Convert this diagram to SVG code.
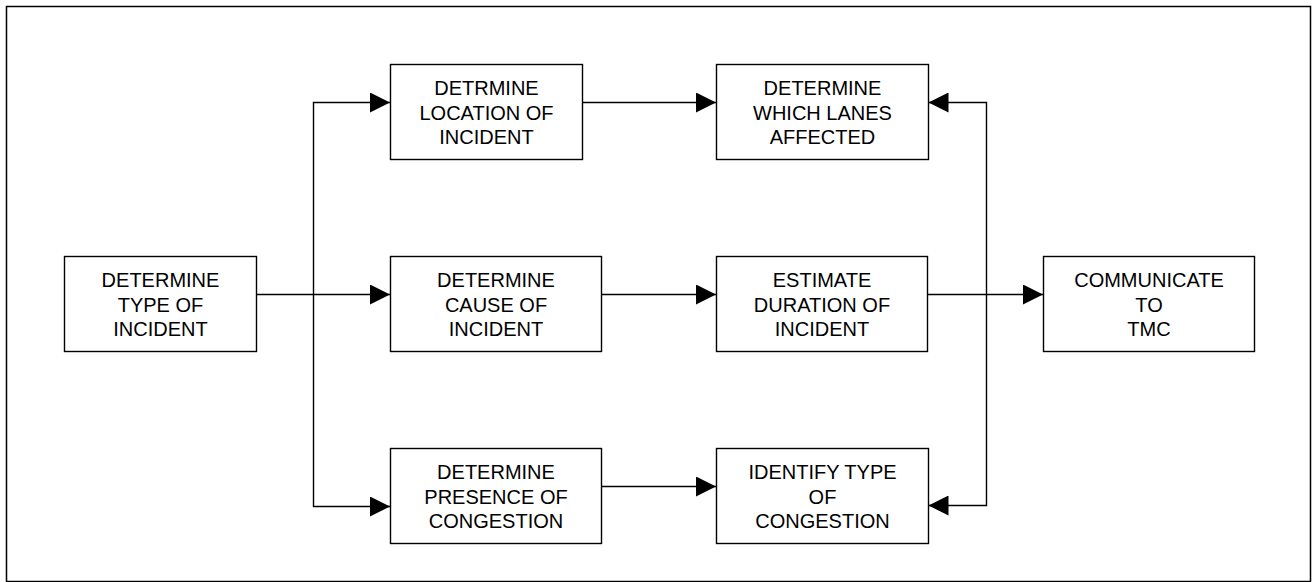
<svg xmlns="http://www.w3.org/2000/svg" width="1312" height="582" viewBox="0 0 1312 582">
<style>
.box{fill:#fff;stroke:#000;stroke-width:1.4}
.lbl{font-family:"Liberation Sans",Arial,sans-serif;font-size:20px;text-anchor:middle;fill:#000}
.con{fill:none;stroke:#000;stroke-width:1.4}
</style>
<defs>
<marker id="arr" markerUnits="userSpaceOnUse" markerWidth="20" markerHeight="20" viewBox="0 0 20 20" refX="20" refY="10" orient="auto-start-reverse">
<path d="M0,0 L20,10 L0,20 Z" fill="#000"/>
</marker>
</defs>
<rect x="0" y="0" width="1312" height="582" fill="#fff"/>
<rect x="6.5" y="6.5" width="1304" height="575" fill="none" stroke="#000" stroke-width="1.5"/>
<g id="connectors">
<path class="con" d="M256.5,294.5 H390" marker-end="url(#arr)"/>
<path class="con" d="M390,102.5 H313.5 V506.5 H390" marker-start="url(#arr)" marker-end="url(#arr)"/>
<path class="con" d="M582.5,102.5 H716" marker-end="url(#arr)"/>
<path class="con" d="M602,294.5 H716" marker-end="url(#arr)"/>
<path class="con" d="M602,486.5 H716" marker-end="url(#arr)"/>
<path class="con" d="M928,294.5 H1043" marker-end="url(#arr)"/>
<path class="con" d="M928.5,102.5 H986.5 V505.5 H928.5" marker-start="url(#arr)" marker-end="url(#arr)"/>
</g>
<g id="type">
<rect class="box" x="64.5" y="256.5" width="192" height="95"/>
<text class="lbl" x="160.5" y="287">DETERMINE</text>
<text class="lbl" x="160.5" y="311.5">TYPE OF</text>
<text class="lbl" x="160.5" y="336">INCIDENT</text>
</g>
<g id="location">
<rect class="box" x="390.5" y="64.5" width="192" height="95"/>
<text class="lbl" x="486.5" y="95">DETRMINE</text>
<text class="lbl" x="486.5" y="119.5">LOCATION OF</text>
<text class="lbl" x="486.5" y="144">INCIDENT</text>
</g>
<g id="lanes">
<rect class="box" x="716.5" y="64.5" width="212" height="95"/>
<text class="lbl" x="822.5" y="95">DETERMINE</text>
<text class="lbl" x="822.5" y="119.5">WHICH LANES</text>
<text class="lbl" x="822.5" y="144">AFFECTED</text>
</g>
<g id="cause">
<rect class="box" x="390.5" y="256.5" width="211" height="95"/>
<text class="lbl" x="496" y="287">DETERMINE</text>
<text class="lbl" x="496" y="311.5">CAUSE OF</text>
<text class="lbl" x="496" y="336">INCIDENT</text>
</g>
<g id="duration">
<rect class="box" x="716.5" y="256.5" width="211" height="95"/>
<text class="lbl" x="822" y="287">ESTIMATE</text>
<text class="lbl" x="822" y="311.5">DURATION OF</text>
<text class="lbl" x="822" y="336">INCIDENT</text>
</g>
<g id="communicate">
<rect class="box" x="1043.5" y="256.5" width="211" height="95"/>
<text class="lbl" x="1149" y="287">COMMUNICATE</text>
<text class="lbl" x="1149" y="311.5">TO</text>
<text class="lbl" x="1149" y="336">TMC</text>
</g>
<g id="presence">
<rect class="box" x="390.5" y="448.5" width="211" height="95"/>
<text class="lbl" x="496" y="479">DETERMINE</text>
<text class="lbl" x="496" y="503.5">PRESENCE OF</text>
<text class="lbl" x="496" y="528">CONGESTION</text>
</g>
<g id="congestion">
<rect class="box" x="716.5" y="448.5" width="212" height="95"/>
<text class="lbl" x="822.5" y="479">IDENTIFY TYPE</text>
<text class="lbl" x="822.5" y="503.5">OF</text>
<text class="lbl" x="822.5" y="528">CONGESTION</text>
</g>
</svg>
